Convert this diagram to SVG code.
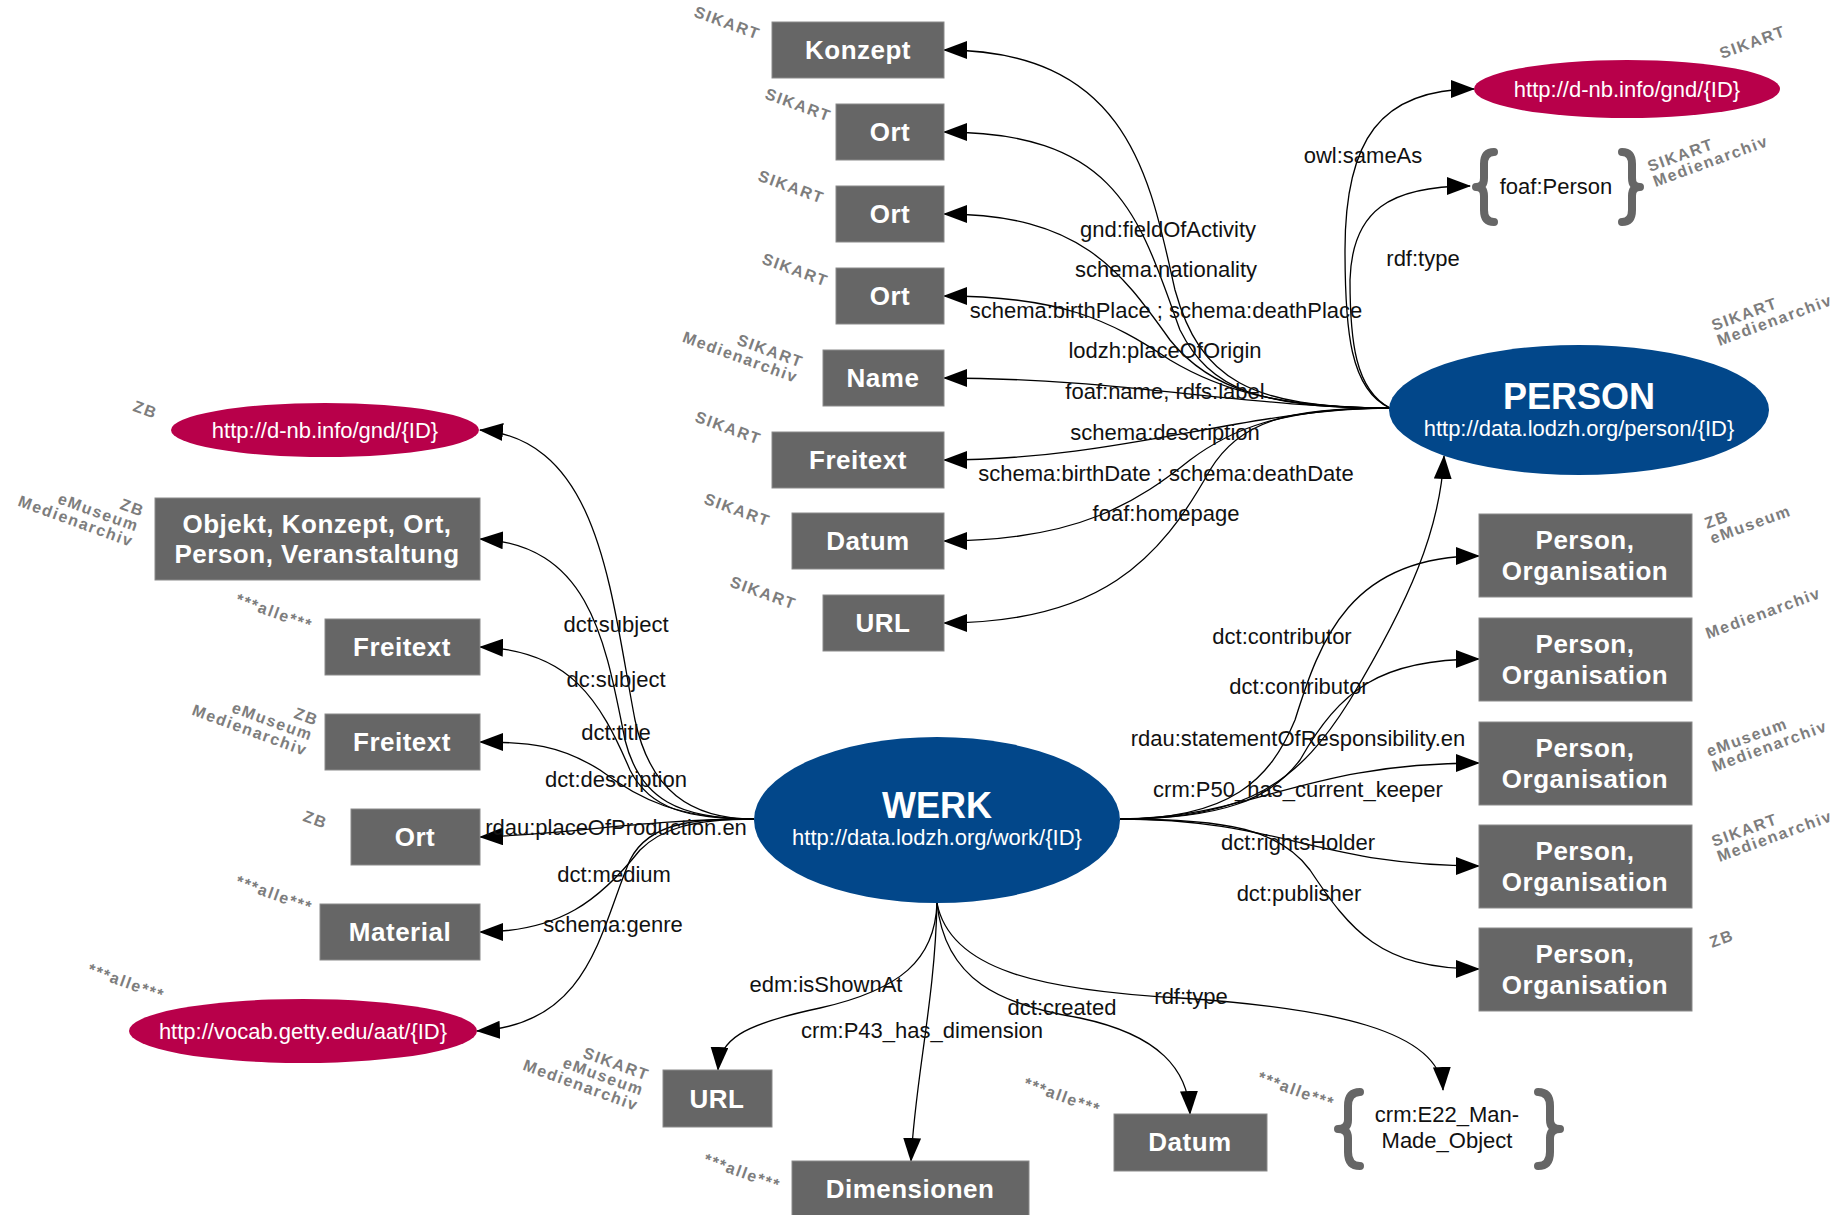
<svg xmlns="http://www.w3.org/2000/svg" width="1842" height="1215" viewBox="0 0 1842 1215">
<defs>
<marker id="ah" markerUnits="userSpaceOnUse" markerWidth="24" markerHeight="18" viewBox="0 0 24 18" refX="23" refY="9" orient="auto">
<path d="M0,0 L24,9 L0,18 z" fill="#000"/>
</marker>
</defs>
<style>
.box{fill:#666;stroke:#8a8a8a;stroke-width:1}
.bt{font-family:"Liberation Sans",Arial,sans-serif;font-size:26px;font-weight:bold;fill:#fff;text-anchor:middle;letter-spacing:0.5px}
.red{fill:#b8004a}
.blue{fill:#02478a}
.wt{font-family:"Liberation Sans",Arial,sans-serif;font-size:22px;fill:#fff;text-anchor:middle}
.big{font-family:"Liberation Sans",Arial,sans-serif;font-size:36px;font-weight:bold;fill:#fff;text-anchor:middle}
.lbl{font-family:"Liberation Sans",Arial,sans-serif;font-size:22px;fill:#111;text-anchor:middle}
.ct{font-family:"Liberation Sans",Arial,sans-serif;font-size:22px;fill:#111;text-anchor:middle}
.brace{fill:none;stroke:#666;stroke-width:8;stroke-linecap:round;stroke-linejoin:round}
.edge{fill:none;stroke:#000;stroke-width:1.3;marker-end:url(#ah)}
.tag{font-family:"Liberation Sans",Arial,sans-serif;font-size:16px;font-weight:bold;fill:#7d7d7d;letter-spacing:1.6px}
.tl{text-anchor:end}
.tr{text-anchor:start}
</style>
<rect width="1842" height="1215" fill="#fff"/>

<g id="connectors">
<!-- PERSON edges -->
<path class="edge" d="M1390,408 C1250,408 1200,380 1175,290 C1150,180 1130,50 944,50"/>
<path class="edge" d="M1390,408 C1260,408 1210,390 1180,330 C1140,220 1120,132 944,132"/>
<path class="edge" d="M1390,408 C1270,408 1210,390 1170,340 C1120,270 1080,214 944,214"/>
<path class="edge" d="M1390,408 C1280,408 1220,390 1170,360 C1110,320 1060,296 944,296"/>
<path class="edge" d="M1390,408 C1250,408 1120,378 944,378"/>
<path class="edge" d="M1390,408 C1250,408 1120,460 944,460"/>
<path class="edge" d="M1390,408 C1280,408 1230,430 1190,460 C1140,500 1080,541 944,541"/>
<path class="edge" d="M1390,408 C1290,408 1240,420 1210,470 C1160,560 1100,623 944,623"/>
<path class="edge" d="M1390,408 C1350,390 1345,330 1345,250 C1345,140 1380,89 1474,89"/>
<path class="edge" d="M1390,408 C1355,390 1350,340 1350,280 C1352,210 1390,186 1470,186"/>
<!-- WERK left edges -->
<path class="edge" d="M754,819 C690,819 650,790 635,720 C610,590 600,440 480,430"/>
<path class="edge" d="M754,819 C680,819 640,800 625,740 C605,640 590,545 480,539"/>
<path class="edge" d="M754,819 C690,819 650,810 630,770 C600,700 570,650 480,647"/>
<path class="edge" d="M754,819 C680,819 640,800 600,770 C560,745 530,742 480,742"/>
<path class="edge" d="M754,819 C650,819 560,835 480,837"/>
<path class="edge" d="M754,819 C690,819 660,830 640,850 C600,900 560,932 480,932"/>
<path class="edge" d="M754,819 C700,819 650,820 630,860 C600,930 590,1025 477,1031"/>
<!-- WERK right edges -->
<path class="edge" d="M1120,819 C1250,819 1300,780 1350,700 C1410,600 1440,530 1444,456"/>
<path class="edge" d="M1120,819 C1230,819 1270,780 1295,720 C1320,640 1350,556 1479,556"/>
<path class="edge" d="M1120,819 C1220,819 1270,800 1300,760 C1340,690 1380,659 1479,659"/>
<path class="edge" d="M1120,819 C1250,819 1300,763 1479,763"/>
<path class="edge" d="M1120,819 C1280,819 1320,866 1479,866"/>
<path class="edge" d="M1120,819 C1230,819 1280,830 1310,870 C1350,930 1380,969 1479,969"/>
<!-- WERK bottom edges -->
<path class="edge" d="M937,903 C935,960 900,990 820,1008 C740,1025 720,1040 718,1070"/>
<path class="edge" d="M937,903 C935,1000 915,1080 911,1161"/>
<path class="edge" d="M937,903 C945,980 1000,1005 1080,1018 C1160,1035 1188,1070 1190,1114"/>
<path class="edge" d="M937,903 C950,970 1040,990 1180,998 C1330,1008 1440,1030 1443,1090"/>
</g>

<g id="edge-labels">
<text class="lbl" x="1168" y="237">gnd:fieldOfActivity</text>
<text class="lbl" x="1166" y="277">schema:nationality</text>
<text class="lbl" x="1166" y="318">schema:birthPlace ; schema:deathPlace</text>
<text class="lbl" x="1165" y="358">lodzh:placeOfOrigin</text>
<text class="lbl" x="1165" y="399">foaf:name, rdfs:label</text>
<text class="lbl" x="1165" y="440">schema:description</text>
<text class="lbl" x="1166" y="481">schema:birthDate ; schema:deathDate</text>
<text class="lbl" x="1166" y="521">foaf:homepage</text>
<text class="lbl" x="1363" y="163">owl:sameAs</text>
<text class="lbl" x="1423" y="266">rdf:type</text>
<text class="lbl" x="616" y="632">dct:subject</text>
<text class="lbl" x="616" y="687">dc:subject</text>
<text class="lbl" x="616" y="740">dct:title</text>
<text class="lbl" x="616" y="787">dct:description</text>
<text class="lbl" x="616" y="835">rdau:placeOfProduction.en</text>
<text class="lbl" x="614" y="882">dct:medium</text>
<text class="lbl" x="613" y="932">schema:genre</text>
<text class="lbl" x="1282" y="644">dct:contributor</text>
<text class="lbl" x="1299" y="694">dct:contributor</text>
<text class="lbl" x="1298" y="746">rdau:statementOfResponsibility.en</text>
<text class="lbl" x="1298" y="797">crm:P50_has_current_keeper</text>
<text class="lbl" x="1298" y="850">dct:rightsHolder</text>
<text class="lbl" x="1299" y="901">dct:publisher</text>
<text class="lbl" x="826" y="992">edm:isShownAt</text>
<text class="lbl" x="922" y="1038">crm:P43_has_dimension</text>
<text class="lbl" x="1062" y="1015">dct:created</text>
<text class="lbl" x="1191" y="1004">rdf:type</text>
</g>

<!-- central nodes -->
<g id="person">
<ellipse class="blue" cx="1579" cy="410" rx="190" ry="65"/>
<text class="big" x="1579" y="409">PERSON</text>
<text class="wt" x="1579" y="436">http://data.lodzh.org/person/{ID}</text>
<g class="tag tr" transform="translate(1714,331) rotate(-20)"><text x="0" y="0">SIKART<tspan x="0" dy="16">Medienarchiv</tspan></text></g>
</g>
<g id="werk">
<ellipse class="blue" cx="937" cy="820" rx="183" ry="83"/>
<text class="big" x="937" y="818">WERK</text>
<text class="wt" x="937" y="845">http://data.lodzh.org/work/{ID}</text>
</g>

<!-- PERSON targets -->
<g id="p-gnd">
<ellipse class="red" cx="1627" cy="89" rx="153" ry="29"/>
<text class="wt" x="1627" y="97">http://d-nb.info/gnd/{ID}</text>
<g class="tag tr" transform="translate(1722,59) rotate(-20)"><text>SIKART</text></g>
</g>
<g id="p-foaf">
<path class="brace" d="M1494,152 Q1484,152 1484,164 L1484,178 Q1484,187 1476,187 Q1484,187 1484,196 L1484,210 Q1484,222 1494,222"/>
<path class="brace" d="M1622,152 Q1632,152 1632,164 L1632,178 Q1632,187 1640,187 Q1632,187 1632,196 L1632,210 Q1632,222 1622,222"/>
<text class="ct" x="1556" y="194">foaf:Person</text>
<g class="tag tr" transform="translate(1650,172) rotate(-20)"><text x="0" y="0">SIKART<tspan x="0" dy="16">Medienarchiv</tspan></text></g>
</g>
<g id="p-konzept">
<rect class="box" x="772" y="22" width="172" height="56"/>
<text class="bt" x="858" y="59">Konzept</text>
<g class="tag tl" transform="translate(758,40) rotate(20)"><text>SIKART</text></g>
</g>
<g id="p-ort1">
<rect class="box" x="836" y="104" width="108" height="56"/>
<text class="bt" x="890" y="141">Ort</text>
<g class="tag tl" transform="translate(829,122) rotate(20)"><text>SIKART</text></g>
</g>
<g id="p-ort2">
<rect class="box" x="836" y="186" width="108" height="56"/>
<text class="bt" x="890" y="223">Ort</text>
<g class="tag tl" transform="translate(822,204) rotate(20)"><text>SIKART</text></g>
</g>
<g id="p-ort3">
<rect class="box" x="836" y="268" width="108" height="56"/>
<text class="bt" x="890" y="305">Ort</text>
<g class="tag tl" transform="translate(826,287) rotate(20)"><text>SIKART</text></g>
</g>
<g id="p-name">
<rect class="box" x="823" y="350" width="121" height="56"/>
<text class="bt" x="883" y="387">Name</text>
<g class="tag tl" transform="translate(801,368) rotate(20)"><text x="0" y="0">SIKART<tspan x="0" dy="16">Medienarchiv</tspan></text></g>
</g>
<g id="p-freitext">
<rect class="box" x="772" y="432" width="172" height="56"/>
<text class="bt" x="858" y="469">Freitext</text>
<g class="tag tl" transform="translate(759,445) rotate(20)"><text>SIKART</text></g>
</g>
<g id="p-datum">
<rect class="box" x="792" y="513" width="152" height="56"/>
<text class="bt" x="868" y="550">Datum</text>
<g class="tag tl" transform="translate(768,527) rotate(20)"><text>SIKART</text></g>
</g>
<g id="p-url">
<rect class="box" x="823" y="595" width="121" height="56"/>
<text class="bt" x="883" y="632">URL</text>
<g class="tag tl" transform="translate(794,610) rotate(20)"><text>SIKART</text></g>
</g>

<!-- WERK left targets -->
<g id="w-gnd">
<ellipse class="red" cx="325" cy="430" rx="154" ry="27"/>
<text class="wt" x="325" y="438">http://d-nb.info/gnd/{ID}</text>
<g class="tag tl" transform="translate(155,419) rotate(20)"><text>ZB</text></g>
</g>
<g id="w-objekt">
<rect class="box" x="155" y="498" width="325" height="82"/>
<text class="bt" x="317" y="533">Objekt, Konzept, Ort,</text>
<text class="bt" x="317" y="563">Person, Veranstaltung</text>
<g class="tag tl" transform="translate(142,517) rotate(20)"><text x="0" y="0">ZB<tspan x="0" dy="16">eMuseum</tspan><tspan x="0" dy="16">Medienarchiv</tspan></text></g>
</g>
<g id="w-freitext1">
<rect class="box" x="325" y="619" width="155" height="56"/>
<text class="bt" x="402" y="656">Freitext</text>
<g class="tag tl" transform="translate(310,631) rotate(20)"><text>***alle***</text></g>
</g>
<g id="w-freitext2">
<rect class="box" x="325" y="714" width="155" height="56"/>
<text class="bt" x="402" y="751">Freitext</text>
<g class="tag tl" transform="translate(316,726) rotate(20)"><text x="0" y="0">ZB<tspan x="0" dy="16">eMuseum</tspan><tspan x="0" dy="16">Medienarchiv</tspan></text></g>
</g>
<g id="w-ort">
<rect class="box" x="351" y="809" width="129" height="56"/>
<text class="bt" x="415" y="846">Ort</text>
<g class="tag tl" transform="translate(325,829) rotate(20)"><text>ZB</text></g>
</g>
<g id="w-material">
<rect class="box" x="320" y="904" width="160" height="56"/>
<text class="bt" x="400" y="941">Material</text>
<g class="tag tl" transform="translate(310,913) rotate(20)"><text>***alle***</text></g>
</g>
<g id="w-getty">
<ellipse class="red" cx="303" cy="1031" rx="174" ry="32"/>
<text class="wt" x="303" y="1039">http://vocab.getty.edu/aat/{ID}</text>
<g class="tag tl" transform="translate(162,1001) rotate(20)"><text>***alle***</text></g>
</g>

<!-- WERK right targets -->
<g id="w-po1">
<rect class="box" x="1479" y="514" width="213" height="83"/>
<text class="bt" x="1585" y="549">Person,</text>
<text class="bt" x="1585" y="580">Organisation</text>
<g class="tag tr" transform="translate(1707,529) rotate(-20)"><text x="0" y="0">ZB<tspan x="0" dy="16">eMuseum</tspan></text></g>
</g>
<g id="w-po2">
<rect class="box" x="1479" y="618" width="213" height="83"/>
<text class="bt" x="1585" y="653">Person,</text>
<text class="bt" x="1585" y="684">Organisation</text>
<g class="tag tr" transform="translate(1708,639) rotate(-20)"><text>Medienarchiv</text></g>
</g>
<g id="w-po3">
<rect class="box" x="1479" y="722" width="213" height="83"/>
<text class="bt" x="1585" y="757">Person,</text>
<text class="bt" x="1585" y="788">Organisation</text>
<g class="tag tr" transform="translate(1709,757) rotate(-20)"><text x="0" y="0">eMuseum<tspan x="0" dy="16">Medienarchiv</tspan></text></g>
</g>
<g id="w-po4">
<rect class="box" x="1479" y="825" width="213" height="83"/>
<text class="bt" x="1585" y="860">Person,</text>
<text class="bt" x="1585" y="891">Organisation</text>
<g class="tag tr" transform="translate(1714,847) rotate(-20)"><text x="0" y="0">SIKART<tspan x="0" dy="16">Medienarchiv</tspan></text></g>
</g>
<g id="w-po5">
<rect class="box" x="1479" y="928" width="213" height="83"/>
<text class="bt" x="1585" y="963">Person,</text>
<text class="bt" x="1585" y="994">Organisation</text>
<g class="tag tr" transform="translate(1712,948) rotate(-20)"><text>ZB</text></g>
</g>

<!-- WERK bottom targets -->
<g id="w-url">
<rect class="box" x="663" y="1070" width="109" height="57"/>
<text class="bt" x="717" y="1108">URL</text>
<g class="tag tl" transform="translate(647,1081) rotate(20)"><text x="0" y="0">SIKART<tspan x="0" dy="16">eMuseum</tspan><tspan x="0" dy="16">Medienarchiv</tspan></text></g>
</g>
<g id="w-dimensionen">
<rect class="box" x="792" y="1161" width="237" height="60"/>
<text class="bt" x="910" y="1198">Dimensionen</text>
<g class="tag tl" transform="translate(778,1191) rotate(20)"><text>***alle***</text></g>
</g>
<g id="w-datum">
<rect class="box" x="1114" y="1114" width="153" height="57"/>
<text class="bt" x="1190" y="1151">Datum</text>
<g class="tag tl" transform="translate(1098,1115) rotate(20)"><text>***alle***</text></g>
</g>
<g id="w-e22">
<path class="brace" d="M1360,1092 Q1348,1092 1348,1106 L1348,1120 Q1348,1129 1338,1129 Q1348,1129 1348,1138 L1348,1152 Q1348,1166 1360,1166"/>
<path class="brace" d="M1538,1092 Q1550,1092 1550,1106 L1550,1120 Q1550,1129 1560,1129 Q1550,1129 1550,1138 L1550,1152 Q1550,1166 1538,1166"/>
<text class="ct" x="1447" y="1122">crm:E22_Man-</text>
<text class="ct" x="1447" y="1148">Made_Object</text>
<g class="tag tl" transform="translate(1332,1109) rotate(20)"><text>***alle***</text></g>
</g>
</svg>
